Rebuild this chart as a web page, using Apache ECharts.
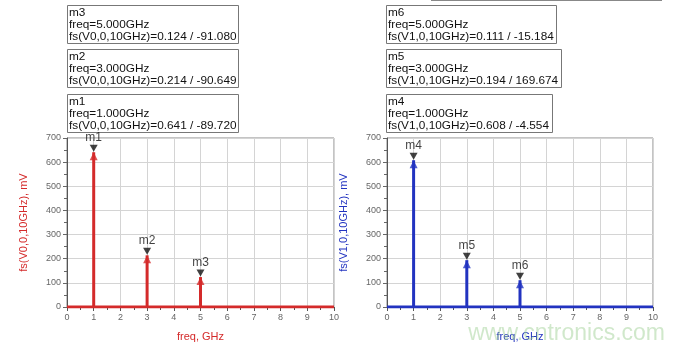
<!DOCTYPE html>
<html>
<head>
<meta charset="utf-8">
<script src="https://cdn.jsdelivr.net/npm/echarts@6/dist/echarts.min.js"></script>
<style>html,body{margin:0;padding:0;background:#fff;}#c{width:685px;height:354px;}</style>
</head>
<body>
<div id="c"></div>
<script>
// ---- data ----
var freqsGHz = [1, 3, 5];
var leftNames = ['m1', 'm2', 'm3'];
var leftMagV = [0.641, 0.214, 0.124];
var leftPhase = ['-89.720', '-90.649', '-91.080'];
var rightNames = ['m4', 'm5', 'm6'];
var rightMagV = [0.608, 0.194, 0.111];
var rightPhase = ['-4.554', '169.674', '-15.184'];
var leftTrace = 'fs(V0,0,10GHz)';
var rightTrace = 'fs(V1,0,10GHz)';
var yTicks = [0, 100, 200, 300, 400, 500, 600, 700];
var xTicks = [0, 1, 2, 3, 4, 5, 6, 7, 8, 9, 10];

var RED = '#d42a2a', BLUE = '#2233c0';
var chart = echarts.init(document.getElementById('c'), null, {renderer: 'canvas'});

function pts(mags) { return freqsGHz.map(function (f, i) { return [f, mags[i] * 1000]; }); }

function xAxis(gi, color) {
  return {
    gridIndex: gi, type: 'value', min: xTicks[0], max: xTicks[xTicks.length - 1], interval: 1,
    name: 'freq, GHz', nameLocation: 'middle', nameGap: 24,
    nameTextStyle: {color: color, fontSize: 11, fontFamily: 'Liberation Sans'},
    axisLine: {show: false},
    axisTick: {show: true, length: 4, lineStyle: {color: '#555'}},
    minorTick: {show: true, splitNumber: 2, length: 3, lineStyle: {color: '#555'}},
    axisLabel: {color: '#666', fontSize: 9, margin: 6, fontFamily: 'Liberation Sans'},
    splitLine: {show: true, lineStyle: {color: '#d4d4d4', width: 1}}
  };
}
function yAxis(gi, color, trace) {
  return {
    gridIndex: gi, type: 'value', min: yTicks[0], max: yTicks[yTicks.length - 1], interval: 100,
    name: trace + ', mV', nameLocation: 'middle', nameGap: 38,
    nameTextStyle: {color: color, fontSize: 11, fontFamily: 'Liberation Sans'},
    axisLine: {show: true, lineStyle: {color: '#555'}},
    axisTick: {show: true, length: 4, lineStyle: {color: '#666'}},
    minorTick: {show: true, splitNumber: 2, length: 3, lineStyle: {color: '#666'}},
    axisLabel: {color: '#666', fontSize: 9, margin: 6, fontFamily: 'Liberation Sans'},
    splitLine: {show: true, lineStyle: {color: '#d4d4d4', width: 1}}
  };
}
function seriesFor(gi, color, mags, names) {
  var d = pts(mags);
  return [
    {type: 'line', xAxisIndex: gi, yAxisIndex: gi, data: [[0, 0], [10, 0]], symbol: 'none',
      lineStyle: {color: color, width: 3}, z: 3, silent: true},
    {type: 'bar', xAxisIndex: gi, yAxisIndex: gi, data: d, barWidth: 3,
      itemStyle: {color: color}, z: 3},
    {type: 'scatter', xAxisIndex: gi, yAxisIndex: gi, data: d, symbol: 'triangle',
      symbolSize: [8, 8], symbolOffset: [0, 4], itemStyle: {color: color}, z: 4},
    {type: 'scatter', xAxisIndex: gi, yAxisIndex: gi,
      data: d.map(function (p, i) { return {value: p, name: names[i]}; }),
      symbol: 'triangle', symbolRotate: 180, symbolSize: [8, 7], symbolOffset: [0, -4],
      itemStyle: {color: '#111'}, z: 5,
      label: {show: true, position: 'top', formatter: '{b}', color: '#111', fontSize: 12,
        distance: 1, fontFamily: 'Liberation Sans'}}
  ];
}

var graphics = [];
function boxes(x, widths, names, mags, phases, trace) {
  var tops = [5, 49, 94];
  for (var k = 0; k < 3; k++) {
    var i = 2 - k;
    graphics.push({type: 'rect', shape: {x: x + 0.5, y: tops[k] + 0.5, width: widths[k], height: 38},
      style: {fill: '#fff', stroke: '#777', lineWidth: 1}});
    var txt = names[i] + '\nfreq=' + freqsGHz[i].toFixed(3) + 'GHz\n' + trace + '=' +
      mags[i].toFixed(3) + ' / ' + phases[i];
    graphics.push({type: 'text', x: x + 2, y: tops[k] + 2,
      style: {text: txt, fill: '#111', fontSize: 11.8, lineHeight: 12, fontFamily: 'Liberation Sans'}});
  }
}
boxes(67, [171, 171, 171], leftNames, leftMagV, leftPhase, leftTrace);
boxes(386, [170, 175, 166], rightNames, rightMagV, rightPhase, rightTrace);
graphics.push({type: 'line', shape: {x1: 431, y1: 0.5, x2: 662, y2: 0.5}, style: {stroke: '#888', lineWidth: 1}});
graphics.push({type: 'text', right: 20, top: 322,
  style: {text: 'www.cntronics.com', fill: 'rgba(150,205,140,0.45)', fontSize: 23, fontFamily: 'Liberation Sans'}, z: 10});

chart.setOption({
  animation: false,
  grid: [
    {left: 67, right: 351, top: 138, bottom: 47, show: true, borderColor: '#888', borderWidth: 1},
    {left: 387, right: 32, top: 138, bottom: 47, show: true, borderColor: '#888', borderWidth: 1}
  ],
  xAxis: [xAxis(0, RED), xAxis(1, BLUE)],
  yAxis: [yAxis(0, RED, leftTrace), yAxis(1, BLUE, rightTrace)],
  series: seriesFor(0, RED, leftMagV, leftNames).concat(seriesFor(1, BLUE, rightMagV, rightNames)),
  graphic: graphics
});
</script>
</body>
</html>
